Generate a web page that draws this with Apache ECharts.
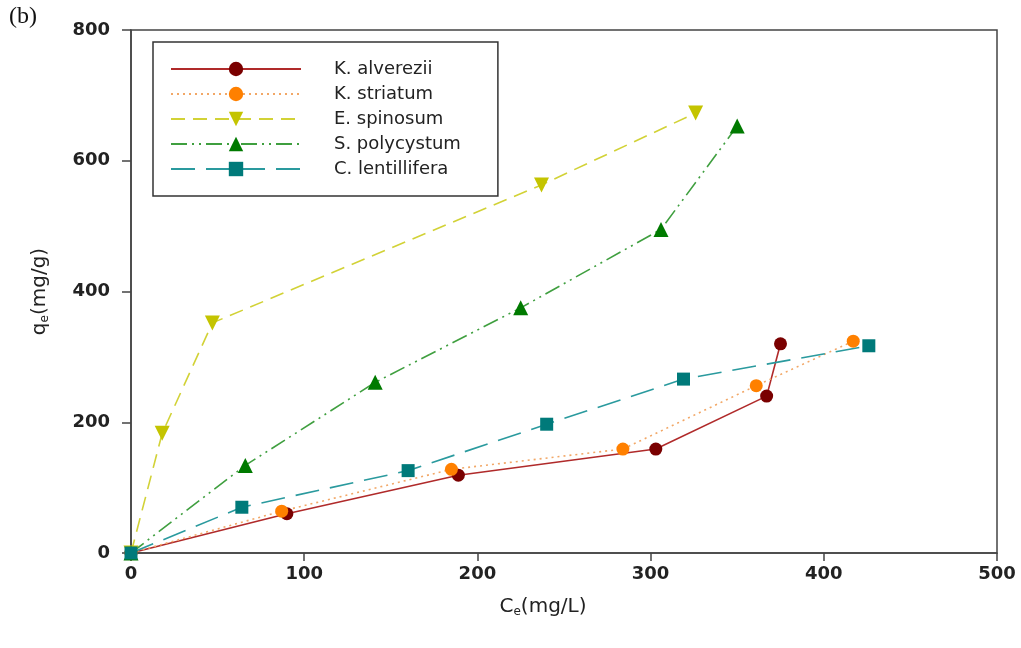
<!DOCTYPE html>
<html>
<head>
<meta charset="utf-8">
<script src="https://cdn.jsdelivr.net/npm/echarts@6/dist/echarts.min.js"></script>
<style>
  html, body { margin: 0; padding: 0; background: #fff; }
  #chart { width: 1021px; height: 648px; }
</style>
</head>
<body>
<div id="chart"></div>
<script>
// Ce (mg/L), qe (mg/g) pairs
var seriesNames = ['K. alverezii', 'K. striatum', 'E. spinosum', 'S. polycystum', 'C. lentillifera'];
var alverezii = [[0, 0], [90, 60], [189, 119], [303, 159], [367, 240], [375, 320]];
var striatum = [[0, 0], [87, 64], [185, 128], [284, 159], [361, 256], [417, 324]];
var spinosum = [[0, 0], [18, 183], [47, 352], [237, 563], [326, 673]];
var polycystum = [[0, 0], [66, 134], [141, 261], [225, 375], [306, 495], [350, 653]];
var lentillifera = [[0, 0], [64, 70], [160, 126], [240, 197], [319, 266], [426, 317]];
var xTicks = [0, 100, 200, 300, 400, 500];
var yTicks = [0, 200, 400, 600, 800];

var chart = echarts.init(document.getElementById('chart'));

function mkSeries(name, data, lineColor, dotColor, dash, symbol, size) {
    return {
        name: name,
        type: 'line',
        data: data,
        symbol: symbol,
        symbolSize: size,
        clip: false,
        lineStyle: { color: lineColor, width: 1.6, type: dash },
        itemStyle: { color: dotColor },
        emphasis: { disabled: true }
    };
}

var rich = {
    a: { fontFamily: 'DejaVu Sans', fontSize: 20, color: '#222' },
    s: { fontFamily: 'DejaVu Sans', fontSize: 12, color: '#222', verticalAlign: 'bottom', padding: [11, 0, 0, 0] }
};

var option = {
    animation: false,
    backgroundColor: '#fff',
    grid: {
        left: 131, right: 24, top: 30, bottom: 95,
        show: true, borderColor: '#444', borderWidth: 1.5
    },
    graphic: [{
        type: 'text', left: 9, top: 5,
        style: { text: '(b)', font: '24px "Liberation Serif", serif', fill: '#111' }
    }],
    legend: {
        left: 153, top: 42,
        orient: 'vertical',
        itemWidth: 130, itemHeight: 18, itemGap: 7,
        padding: [18, 37, 18, 17],
        borderColor: '#333', borderWidth: 1.5,
        textStyle: { fontFamily: 'DejaVu Sans', fontSize: 18, color: '#222', padding: [0, 0, 0, 28] },
        data: seriesNames
    },
    xAxis: {
        type: 'value', min: 0, max: 500, interval: 100,
        name: '{a|C}{s|e}{a|(mg/L)}',
        nameLocation: 'middle', nameGap: 42,
        nameTextStyle: { rich: rich, padding: [0, 42, 0, 0] },
        axisLine: { lineStyle: { color: '#444', width: 1.5 } },
        axisTick: { show: true, length: 8, lineStyle: { color: '#444', width: 1.5 } },
        axisLabel: {
            margin: 12, fontFamily: 'DejaVu Sans', fontSize: 18, fontWeight: 'bold', color: '#222',
            formatter: function (v) { return xTicks.indexOf(v) >= 0 ? String(v) : ''; }
        },
        splitLine: { show: false }
    },
    yAxis: {
        type: 'value', min: 0, max: 800, interval: 200,
        name: '{a|q}{s|e}{a|(mg/g)}',
        nameLocation: 'middle', nameGap: 80, nameRotate: 90,
        nameTextStyle: { rich: rich },
        axisLine: { show: true, lineStyle: { color: '#444', width: 1.5 } },
        axisTick: { show: true, length: 9, lineStyle: { color: '#444', width: 1.5 } },
        axisLabel: {
            margin: 21, fontFamily: 'DejaVu Sans', fontSize: 18, fontWeight: 'bold', color: '#222',
            formatter: function (v) { return yTicks.indexOf(v) >= 0 ? String(v) : ''; }
        },
        splitLine: { show: false }
    },
    series: [
        mkSeries(seriesNames[0], alverezii, '#b02a2a', '#7a0000', 'solid', 'circle', 13),
        mkSeries(seriesNames[1], striatum, '#f2a766', '#ff8000', [2, 4], 'circle', 13),
        mkSeries(seriesNames[2], spinosum, '#d2d236', '#c4c400', [14, 8], 'triangle', 15),
        mkSeries(seriesNames[3], polycystum, '#3f9f3f', '#007a00', [16, 5, 2, 5, 2, 5], 'triangle', 15),
        mkSeries(seriesNames[4], lentillifera, '#2a9a9e', '#007a7a', [24, 11], 'rect', 13)
    ]
};

// E. spinosum uses downward-pointing triangles
option.series[2].symbolRotate = 180;

chart.setOption(option);
</script>
</body>
</html>
